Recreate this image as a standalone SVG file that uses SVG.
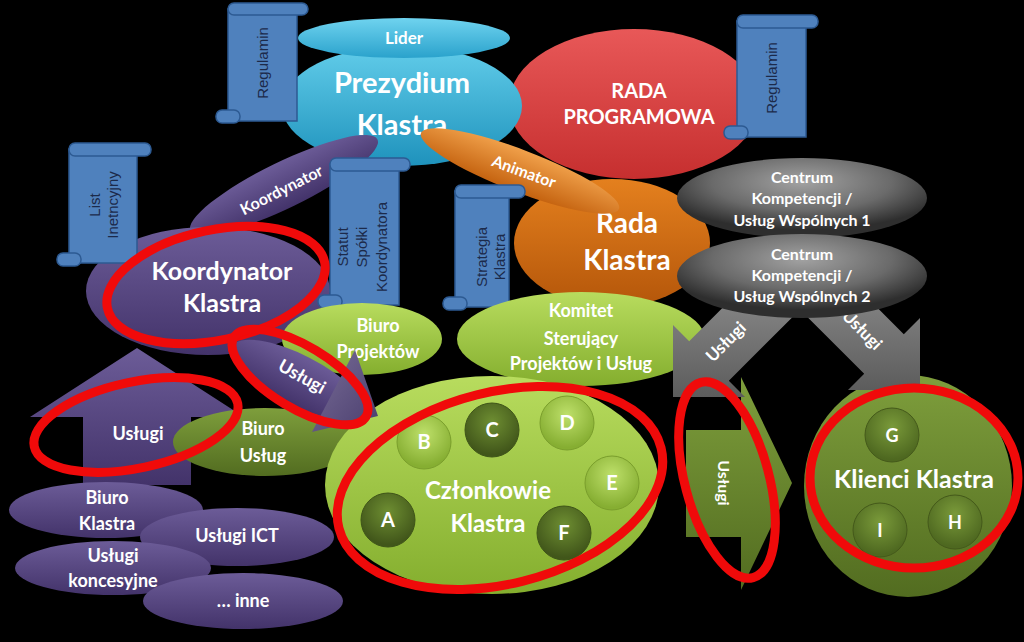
<svg xmlns="http://www.w3.org/2000/svg" width="1024" height="642" viewBox="0 0 1024 642">
<defs>
<linearGradient id="gCyan" x1="0" y1="0" x2="0" y2="1"><stop offset="0" stop-color="#62CDEA"/><stop offset="1" stop-color="#1E92BC"/></linearGradient>
<linearGradient id="gLider" x1="0" y1="0" x2="0" y2="1"><stop offset="0" stop-color="#6FD3EF"/><stop offset="1" stop-color="#2AA2CC"/></linearGradient>
<linearGradient id="gRed" x1="0" y1="0" x2="0" y2="1"><stop offset="0" stop-color="#E85858"/><stop offset="1" stop-color="#C62F2F"/></linearGradient>
<linearGradient id="gOrange" x1="0" y1="0" x2="0" y2="1"><stop offset="0" stop-color="#E4801E"/><stop offset="1" stop-color="#B4560A"/></linearGradient>
<linearGradient id="gAnim" x1="0" y1="0" x2="0" y2="1"><stop offset="0" stop-color="#F0A04A"/><stop offset="1" stop-color="#C4620F"/></linearGradient>
<radialGradient id="gGray" cx="0.5" cy="0.3" r="0.6"><stop offset="0" stop-color="#A2A2A2"/><stop offset="0.6" stop-color="#6A6A6A"/><stop offset="1" stop-color="#2E2E2E"/></radialGradient>
<linearGradient id="gArrow" x1="0" y1="0" x2="0" y2="1"><stop offset="0" stop-color="#8E8E8E"/><stop offset="1" stop-color="#5C5C5C"/></linearGradient>
<linearGradient id="gPurple" x1="0" y1="0" x2="0" y2="1"><stop offset="0" stop-color="#6C5C98"/><stop offset="1" stop-color="#43336A"/></linearGradient>
<linearGradient id="gPurpleTri" x1="0" y1="0" x2="1" y2="1"><stop offset="0" stop-color="#7A6E98"/><stop offset="1" stop-color="#4A3E6E"/></linearGradient>
<linearGradient id="gLGreen" x1="0" y1="0" x2="0" y2="1"><stop offset="0" stop-color="#B8DC5E"/><stop offset="1" stop-color="#84AE2E"/></linearGradient>
<linearGradient id="gOlive" x1="0" y1="0" x2="0" y2="1"><stop offset="0" stop-color="#7E9E3C"/><stop offset="1" stop-color="#526C20"/></linearGradient>
<radialGradient id="gCirL" cx="0.5" cy="0.35" r="0.6"><stop offset="0" stop-color="#BEE06A"/><stop offset="1" stop-color="#86AE32"/></radialGradient>
<radialGradient id="gCirD" cx="0.5" cy="0.35" r="0.6"><stop offset="0" stop-color="#6E8E32"/><stop offset="1" stop-color="#41561A"/></radialGradient>
<radialGradient id="gCirO" cx="0.5" cy="0.35" r="0.6"><stop offset="0" stop-color="#7A9A3A"/><stop offset="1" stop-color="#4E6820"/></radialGradient>
<style>
.t{font-family:Lato,"Open Sans","DejaVu Sans",sans-serif;font-weight:bold;fill:#FFFFFF;text-anchor:middle}
.s{font-family:"Liberation Sans",Arial,sans-serif;fill:#1C2A4A;text-anchor:middle;font-size:15px}
.scr{fill:#4F81BD;stroke:#2D5A92;stroke-width:1.5}
.ring{fill:none;stroke:#F00A0A;stroke-width:9}
</style>
</defs>
<rect width="1024" height="642" fill="#000000"/>

<g id="rada-programowa">
<ellipse cx="634" cy="104" rx="125" ry="75" fill="url(#gRed)"/>
<text class="t" x="639" y="98" font-size="20">RADA</text>
<text class="t" x="639" y="124" font-size="20">PROGRAMOWA</text>
</g>

<g id="prezydium">
<ellipse cx="402" cy="106" rx="120" ry="60" fill="url(#gCyan)"/>
<text class="t" x="402" y="93" font-size="29">Prezydium</text>
<text class="t" x="402" y="135" font-size="29">Klastra</text>
</g>

<g id="lider">
<ellipse cx="404" cy="38" rx="106" ry="20" fill="url(#gLider)"/>
<text class="t" x="404" y="44" font-size="17">Lider</text>
</g>

<g id="regulamin-1">
<rect class="scr" x="228" y="9" width="69" height="112"/>
<rect class="scr" x="228" y="3" width="80" height="12" rx="6"/>
<rect class="scr" x="216" y="110" width="24" height="13" rx="6"/>
<text class="s" font-size="16" transform="translate(262,63) rotate(-90)" y="6">Regulamin</text>
</g>

<g id="regulamin-2">
<rect class="scr" x="737" y="21" width="69" height="116"/>
<rect class="scr" x="737" y="15" width="81" height="13" rx="6"/>
<rect class="scr" x="724" y="126" width="24" height="13" rx="6"/>
<text class="s" font-size="16" transform="translate(771,78) rotate(-90)" y="6">Regulamin</text>
</g>

<g id="rada-klastra">
<ellipse cx="612" cy="243" rx="98" ry="64" fill="url(#gOrange)"/>
<text class="t" x="627" y="233" font-size="28">Rada</text>
<text class="t" x="627" y="270" font-size="28">Klastra</text>
</g>

<g id="animator">
<ellipse cx="520" cy="171" rx="106" ry="21" fill="url(#gAnim)" transform="rotate(21 520 171)"/>
<text class="t" font-size="16" transform="translate(522,177) rotate(20)">Animator</text>
</g>

<g id="koordynator-link">
<ellipse cx="284" cy="185" rx="104" ry="23" fill="url(#gPurple)" transform="rotate(-26 284 185)"/>
<text class="t" font-size="16" transform="translate(284,195) rotate(-27)">Koordynator</text>
</g>

<g id="koordynator-klastra">
<ellipse cx="208" cy="291" rx="122" ry="64" fill="url(#gPurple)"/>
<text class="t" x="222" y="280" font-size="25">Koordynator</text>
<text class="t" x="222" y="312" font-size="25">Klastra</text>
</g>

<g id="list-intencyjny">
<rect class="scr" x="69" y="149" width="68" height="114"/>
<rect class="scr" x="69" y="143" width="82" height="13" rx="6"/>
<rect class="scr" x="57" y="253" width="24" height="13" rx="6"/>
<text class="s" transform="translate(104,205) rotate(-90)"><tspan x="0" y="-4">List</tspan><tspan x="0" y="14">Inetncyjny</tspan></text>
</g>

<g id="statut">
<rect class="scr" x="330" y="164" width="69" height="141"/>
<rect class="scr" x="330" y="158" width="80" height="13" rx="6"/>
<rect class="scr" x="318" y="295" width="24" height="13" rx="6"/>
<text class="s" transform="translate(362,247) rotate(-90)"><tspan x="0" y="-14">Statut</tspan><tspan x="0" y="5">Spółki</tspan><tspan x="0" y="25">Koordynatora</tspan></text>
</g>

<g id="strategia">
<rect class="scr" x="455" y="191" width="54" height="116"/>
<rect class="scr" x="455" y="185" width="70" height="13" rx="6"/>
<rect class="scr" x="443" y="297" width="24" height="13" rx="6"/>
<text class="s" transform="translate(491,257) rotate(-90)"><tspan x="0" y="-4">Strategia</tspan><tspan x="0" y="14">Klastra</tspan></text>
</g>

<g id="komitet">
<ellipse cx="581" cy="339" rx="124" ry="47" fill="url(#gLGreen)"/>
<text class="t" x="581" y="317" font-size="18">Komitet</text>
<text class="t" x="581" y="345" font-size="18">Sterujący</text>
<text class="t" x="581" y="370" font-size="18">Projektów i Usług</text>
</g>

<g id="biuro-projektow">
<ellipse cx="362" cy="339" rx="80" ry="36" fill="url(#gLGreen)"/>
<text class="t" x="378" y="332" font-size="18">Biuro</text>
<text class="t" x="378" y="358" font-size="18">Projektów</text>
</g>

<g id="uslugi-up">
<polygon points="137,348 244,417 191,417 191,485 83,485 83,417 30,417" fill="url(#gPurple)"/>
<text class="t" x="138" y="440" font-size="18">Usługi</text>
</g>

<g id="biuro-uslug">
<ellipse cx="265" cy="442" rx="92" ry="34" fill="url(#gOlive)"/>
<text class="t" x="263" y="435" font-size="18">Biuro</text>
<text class="t" x="263" y="462" font-size="18">Usług</text>
</g>

<g id="uslugi-diag">
<ellipse cx="298" cy="380" rx="74" ry="25" fill="url(#gPurple)" transform="rotate(27 298 380)"/>
<text class="t" font-size="18" transform="translate(299,382) rotate(29)">Usługi</text>
</g>

<g id="biuro-klastra">
<ellipse cx="106" cy="510" rx="97" ry="28" fill="url(#gPurple)"/>
<text class="t" x="107" y="504" font-size="18">Biuro</text>
<text class="t" x="107" y="530" font-size="18">Klastra</text>
</g>
<g id="uslugi-ict">
<ellipse cx="237" cy="537" rx="97" ry="29" fill="url(#gPurple)"/>
<text class="t" x="237" y="542" font-size="18">Usługi ICT</text>
</g>
<g id="uslugi-koncesyjne">
<ellipse cx="113" cy="568" rx="98" ry="27" fill="url(#gPurple)"/>
<text class="t" x="113" y="562" font-size="18">Usługi</text>
</g>
<g id="inne">
<ellipse cx="243" cy="601" rx="100" ry="28" fill="url(#gPurple)"/>
<text class="t" x="243" y="607" font-size="18">… inne</text>
<text class="t" x="113" y="587" font-size="18">koncesyjne</text>
</g>

<g id="czlonkowie">
<ellipse cx="492" cy="485" rx="167" ry="109" fill="url(#gLGreen)"/>
<text class="t" x="488" y="499" font-size="24">Członkowie</text>
<text class="t" x="488" y="532" font-size="24">Klastra</text>
<g font-size="20">
<circle cx="424" cy="442" r="27" fill="url(#gCirL)" stroke="#7A9E2C" stroke-width="1"/><text class="t" x="424" y="449" font-size="20">B</text>
<circle cx="492" cy="430" r="27" fill="url(#gCirD)" stroke="#3E5418" stroke-width="1"/><text class="t" x="492" y="437" font-size="20">C</text>
<circle cx="567" cy="423" r="27" fill="url(#gCirL)" stroke="#7A9E2C" stroke-width="1"/><text class="t" x="567" y="430" font-size="20">D</text>
<circle cx="612" cy="483" r="27" fill="url(#gCirL)" stroke="#7A9E2C" stroke-width="1"/><text class="t" x="612" y="490" font-size="20">E</text>
<circle cx="388" cy="520" r="27" fill="url(#gCirD)" stroke="#3E5418" stroke-width="1"/><text class="t" x="388" y="527" font-size="20">A</text>
<circle cx="564" cy="533" r="27" fill="url(#gCirD)" stroke="#3E5418" stroke-width="1"/><text class="t" x="564" y="540" font-size="20">F</text>
</g>
</g>

<g id="connectors">
<polygon points="355,350 378,416 312,432" fill="url(#gPurpleTri)"/>
<polygon points="686,430 741,430 741,377 792,483 741,590 741,537 686,537" fill="url(#gOlive)"/>
</g>
<text class="t" font-size="16" transform="translate(724,483) rotate(90)" y="6">Usługi</text>

<g id="klienci">
<ellipse cx="908" cy="486" rx="104" ry="111" fill="url(#gOlive)"/>
<text class="t" x="914" y="488" font-size="25">Klienci Klastra</text>
<circle cx="892" cy="435" r="27" fill="url(#gCirO)" stroke="#44591A" stroke-width="1"/><text class="t" x="892" y="442" font-size="18">G</text>
<circle cx="880" cy="530" r="27" fill="url(#gCirO)" stroke="#44591A" stroke-width="1"/><text class="t" x="880" y="537" font-size="18">I</text>
<circle cx="955" cy="522" r="27" fill="url(#gCirO)" stroke="#44591A" stroke-width="1"/><text class="t" x="955" y="529" font-size="18">H</text>
</g>

<g id="gray-arrows">
<polygon points="673,397 673,325 689.2,341.2 752.8,277.6 792.4,317.2 728.8,380.8 745,397" fill="url(#gArrow)"/>
<polygon points="920,390 920,318 903.8,334.2 840.2,270.6 800.6,310.2 864.2,373.8 848,390" fill="url(#gArrow)"/>
<text class="t" font-size="17" transform="translate(730,346) rotate(-45)">Usługi</text>
<text class="t" font-size="17" transform="translate(858,334) rotate(45)">Usługi</text>
</g>

<g id="centrum-1">
<ellipse cx="802" cy="198" rx="125" ry="40" fill="url(#gGray)"/>
<text class="t" x="802" y="183" font-size="16">Centrum</text>
<text class="t" x="802" y="204" font-size="16">Kompetencji /</text>
<text class="t" x="802" y="226" font-size="16">Usług Wspólnych 1</text>
</g>
<g id="centrum-2">
<ellipse cx="802" cy="276" rx="125" ry="42" fill="url(#gGray)"/>
<text class="t" x="802" y="260" font-size="16">Centrum</text>
<text class="t" x="802" y="281" font-size="16">Kompetencji /</text>
<text class="t" x="802" y="302" font-size="16">Usług Wspólnych 2</text>
</g>

<g id="rings">
<ellipse class="ring" cx="216" cy="285" rx="111" ry="55" transform="rotate(-12 216 285)"/>
<ellipse class="ring" cx="300" cy="377" rx="77" ry="31" transform="rotate(31 300 377)"/>
<ellipse class="ring" cx="136" cy="425" rx="104" ry="43" transform="rotate(-12 136 425)"/>
<ellipse class="ring" cx="500" cy="488" rx="166" ry="96" transform="rotate(-14 500 488)"/>
<ellipse class="ring" cx="727" cy="480" rx="42" ry="101" transform="rotate(-15 727 480)"/>
<ellipse class="ring" cx="914" cy="478" rx="104" ry="90"/>
</g>
</svg>
